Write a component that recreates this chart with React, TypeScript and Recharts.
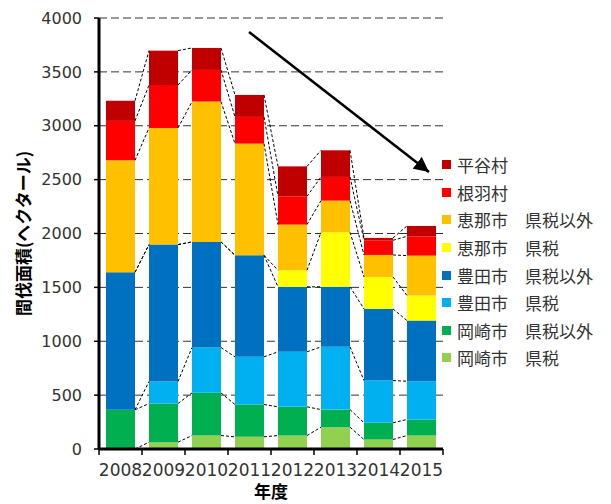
import { ComposedChart, Bar, XAxis, YAxis, CartesianGrid } from 'recharts';

const years = ['2008', '2009', '2010', '2011', '2012', '2013', '2014', '2015'];

// 間伐面積 (ha) per year, bottom of the stack first
const okazakiKenzei = [0, 63, 125, 113, 125, 202, 88, 125];
const okazakiOther = [364, 359, 396, 300, 266, 164, 155, 149];
const toyotaKenzei = [0, 204, 421, 442, 511, 582, 392, 355];
const toyotaOther = [1276, 1271, 980, 943, 603, 557, 665, 563];
const enaKenzei = [0, 0, 0, 0, 154, 506, 297, 232];
const enaOther = [1039, 1083, 1302, 1036, 424, 294, 204, 371];
const nebaMura = [366, 398, 294, 248, 262, 220, 136, 179];
const hirayaMura = [187, 319, 204, 204, 278, 247, 22, 96];

const yTicks = [0, 500, 1000, 1500, 2000, 2500, 3000, 3500, 4000];
const Y_MAX = 4000;

const series = [
  { key: 'okazakiKenzei', name: '岡崎市　県税', color: '#92D050', values: okazakiKenzei },
  { key: 'okazakiOther', name: '岡崎市　県税以外', color: '#00B050', values: okazakiOther },
  { key: 'toyotaKenzei', name: '豊田市　県税', color: '#00B0F0', values: toyotaKenzei },
  { key: 'toyotaOther', name: '豊田市　県税以外', color: '#0070C0', values: toyotaOther },
  { key: 'enaKenzei', name: '恵那市　県税', color: '#FFFF00', values: enaKenzei },
  { key: 'enaOther', name: '恵那市　県税以外', color: '#FFC000', values: enaOther },
  { key: 'nebaMura', name: '根羽村', color: '#FF0000', values: nebaMura },
  { key: 'hirayaMura', name: '平谷村', color: '#C00000', values: hirayaMura },
];

const data = years.map((year, i) => {
  const row: Record<string, string | number> = { year };
  series.forEach(s => { row[s.key] = s.values[i]; });
  return row;
});

// running totals, used for the dashed series lines between bars
const cumulative = series.map((_, k) =>
  years.map((_, i) => series.slice(0, k + 1).reduce((sum, s) => sum + s.values[i], 0))
);

const W = 611;
const H = 504;
const M = { top: 18, right: 168, bottom: 1, left: 0 };
const Y_AXIS_W = 99;
const X_AXIS_H = 54;
const PLOT_W = W - M.left - M.right - Y_AXIS_W;
const PLOT_TOP = M.top;
const PLOT_H = H - M.top - M.bottom - X_AXIS_H;
const BAND_W = PLOT_W / years.length;

const NUM_FONT = '"DejaVu Sans", sans-serif';
const JP_FONT = '"Noto Sans CJK JP", sans-serif';

const TopShape = (props: any) => {
  const { x, y, width, height, fill, index } = props;
  const pix = (v: number) => PLOT_TOP + PLOT_H * (1 - v / Y_MAX);
  return (
    <g>
      <rect x={x} y={y} width={width} height={height} fill={fill} />
      {index < years.length - 1 &&
        cumulative.map((cum, k) => (
          <line
            key={k}
            x1={x + width}
            y1={pix(cum[index])}
            x2={x + BAND_W}
            y2={pix(cum[index + 1])}
            stroke="#000"
            strokeWidth={1}
            strokeDasharray="3 2"
          />
        ))}
    </g>
  );
};

const XTick = (props: any) => {
  const { x, y, payload, index } = props;
  const last = index === years.length - 1;
  return (
    <g>
      <line x1={x - BAND_W / 2} y1={y - 6} x2={x - BAND_W / 2} y2={y} stroke="#000" strokeWidth={1.5} />
      {last && <line x1={x + BAND_W / 2} y1={y - 6} x2={x + BAND_W / 2} y2={y} stroke="#000" strokeWidth={1.5} />}
      <text x={x} y={y} dy={21} textAnchor="middle" fontSize={17} fill="#333" fontFamily={NUM_FONT}>
        {payload.value}
      </text>
    </g>
  );
};

const LegendBox = () => (
  <div style={{ position: 'absolute', left: 442, top: 151, fontFamily: JP_FONT, fontSize: 17, color: '#333' }}>
    {[...series].reverse().map(s => (
      <div key={s.key} style={{ display: 'flex', alignItems: 'center', height: 27.6, whiteSpace: 'pre' }}>
        <span style={{ width: 9, height: 9, background: s.color, marginRight: 6, display: 'inline-block' }} />
        <span>{s.name}</span>
      </div>
    ))}
  </div>
);

export default function App() {
  return (
    <div style={{ position: 'fixed', left: 0, top: 0, width: W, height: H, background: '#fff' }}>
      <ComposedChart width={W} height={H} data={data} margin={M} barSize={29}>
        <CartesianGrid vertical={false} stroke="#333" strokeDasharray="8 4" />
        <XAxis
          dataKey="year"
          height={X_AXIS_H}
          axisLine={{ stroke: '#000', strokeWidth: 3 }}
          tickLine={false}
          tickSize={6}
          tickMargin={0}
          interval={0}
          tick={<XTick />}
          label={{
            value: '年度',
            position: 'insideBottom',
            offset: 5,
            style: { fontFamily: JP_FONT, fontSize: 17, fontWeight: 700, fill: '#000' },
          }}
        />
        <YAxis
          width={Y_AXIS_W}
          domain={[0, Y_MAX]}
          ticks={yTicks}
          interval={0}
          axisLine={{ stroke: '#000', strokeWidth: 3 }}
          tickLine={{ stroke: '#000', strokeWidth: 1.5 }}
          tickSize={5}
          tickMargin={12}
          tick={{ fontSize: 16, fill: '#333', fontFamily: NUM_FONT }}
          label={{
            value: '間伐面積(ヘクタール)',
            angle: -90,
            position: 'insideLeft',
            offset: 24,
            style: { fontFamily: JP_FONT, fontSize: 17, fontWeight: 700, fill: '#000', textAnchor: 'middle' },
          }}
        />
        {series.map((s, k) => (
          <Bar
            key={s.key}
            dataKey={s.key}
            name={s.name}
            stackId="a"
            fill={s.color}
            isAnimationActive={false}
            shape={k === series.length - 1 ? <TopShape /> : undefined}
          />
        ))}
      </ComposedChart>
      <LegendBox />
      <svg width={W} height={H} style={{ position: 'absolute', left: 0, top: 0, pointerEvents: 'none' }}>
        <defs>
          <marker id="head" markerWidth="6" markerHeight="6" refX="6" refY="3" orient="auto" markerUnits="strokeWidth">
            <path d="M0,0 L6,3 L0,6 Z" fill="#000" />
          </marker>
        </defs>
        <line x1={249} y1={32} x2={429} y2={172} stroke="#000" strokeWidth={2.5} markerEnd="url(#head)" />
      </svg>
    </div>
  );
}
